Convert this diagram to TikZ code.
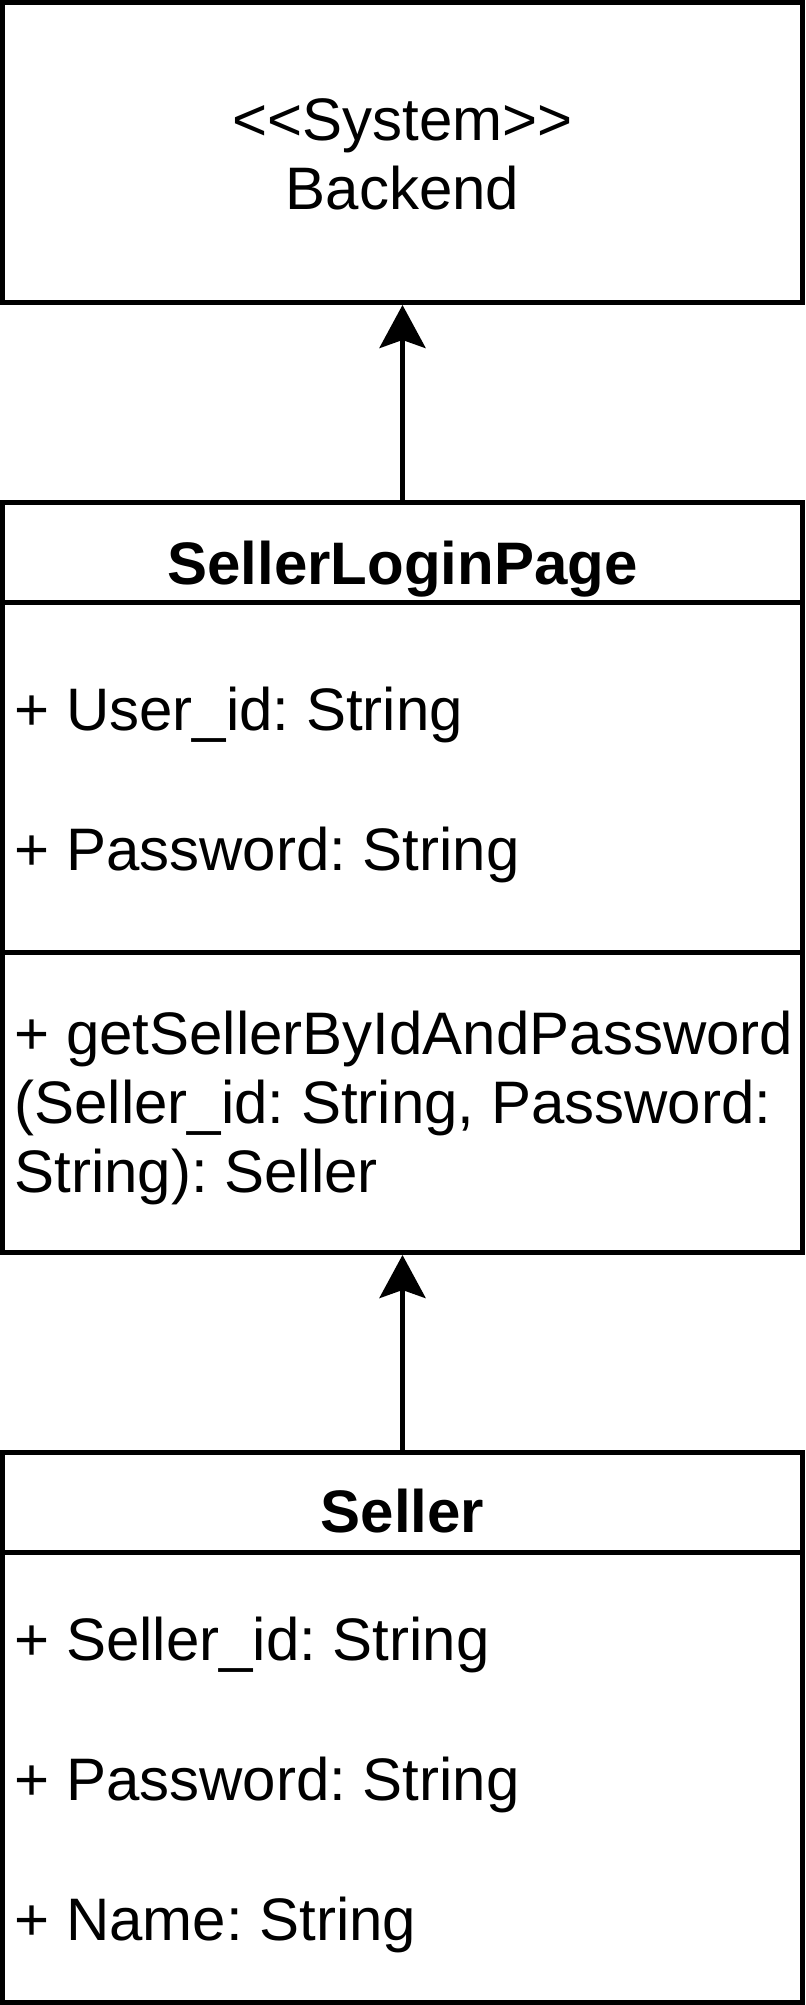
\documentclass[tikz,border=0pt]{standalone}
\usepackage{fontspec}
\setmainfont{Liberation Sans}
\usetikzlibrary{arrows.meta}
\frenchspacing

\begin{document}
\begin{tikzpicture}[x=0.5pt, y=-0.5pt,
    boxstyle/.style={draw, line width=2.5pt, rectangle, inner sep=0pt, minimum width=400pt},
    plaintext/.style={anchor=base, inner sep=0pt, font=\fontsize{30}{34.5}\selectfont},
    headtext/.style={anchor=base, inner sep=0pt, font=\fontsize{30}{34.5}\selectfont\bfseries},
    membertext/.style={anchor=base west, inner sep=0pt, font=\fontsize{30}{34.5}\selectfont},
    linkarrow/.style={line width=2.5pt, -{Stealth[length=21.5pt, width=23pt, inset=4pt]}}]
            \useasboundingbox (0,0) rectangle (805,2005);

            % boxes
            \node[boxstyle, minimum height=150pt] (backend) at (402.5,152.5) {};
            \node[boxstyle, minimum height=50pt] (loginHead) at (402.5,552.5) {};
            \node[boxstyle, minimum height=175pt] (loginAttr) at (402.5,777.5) {};
            \node[boxstyle, minimum height=150pt] (loginOps) at (402.5,1102.5) {};
            \node[boxstyle, minimum height=50pt] (sellerHead) at (402.5,1502.5) {};
            \node[boxstyle, minimum height=225pt] (sellerAttr) at (402.5,1777.5) {};

            % texts
            \node[plaintext] (sysLabel) at (402.5,141) {<\kern0pt<System>\kern0pt>};
            \node[plaintext] (backendLabel) at (402.5,210) {Backend};
            \node[headtext] (loginTitle) at (402.5,584) {SellerLoginPage};
            \node[headtext] (sellerTitle) at (402.5,1532) {Seller};

            \foreach \txt [count=\i] in {+ User\_id: String, + Password: String}
            \node[membertext] (loginA\i) at (14,590+140*\i) {\txt};

            \foreach \txt [count=\i] in {+ getSellerByIdAndPassword, {(Seller\_id: String, Password:}, {String): Seller}}
            \node[membertext] (loginM\i) at (14,985+69*\i) {\txt};

            \foreach \txt [count=\i] in {+ Seller\_id: String, + Password: String, + Name: String}
            \node[membertext] (sellerA\i) at (14,1520+140*\i) {\txt};

            % links
            \draw[linkarrow] (loginHead.north) -- (backend.south);
            \draw[linkarrow] (sellerHead.north) -- (loginOps.south);
        \end{tikzpicture}
\end{document}
